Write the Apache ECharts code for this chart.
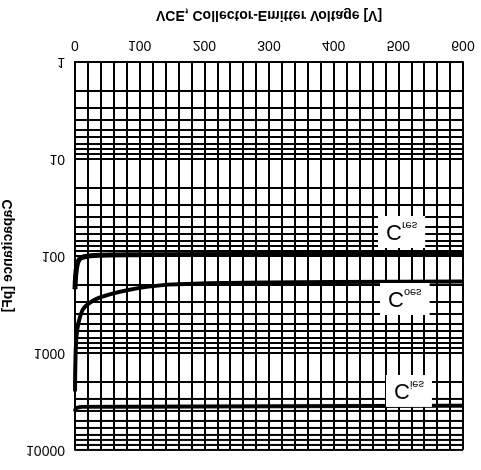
<!DOCTYPE html>
<html><head><meta charset="utf-8">
<script src="https://cdn.jsdelivr.net/npm/echarts@6/dist/echarts.min.js"></script>
<style>html,body{margin:0;padding:0;background:#fff}#c{width:481px;height:470px;transform:scaleY(-1)}</style>
</head><body><div id="c"></div>
<script>
var xTicks=[0,100,200,300,400,500,600];
var yTicks=[1,10,100,1000,10000];
var cres=[[0,220],[1,160],[3,125],[6,110],[10,104],[20,100],[40,98],[100,97],[600,96]];
var coes=[[0,2500],[1,1000],[3,600],[8,420],[15,336],[40,265],[100,213],[160,195],[300,188],[600,183]];
var cies=[[0,4000],[2,3700],[10,3600],[600,3500]];
var ch=echarts.init(document.getElementById('c'));
var F='Liberation Sans';
function lbl(x,y,s){return {type:'text',left:x,top:y,z:10,style:{text:'{a|C}{b|'+s+'}',backgroundColor:'#fff',padding:[6,8,4,8],
 rich:{a:{fontSize:22,fontFamily:F,color:'#000'},b:{fontSize:11,fontFamily:F,color:'#000',verticalAlign:'bottom',padding:[10,0,0,0]}}}};}
ch.setOption({
 animation:false,
 grid:{left:75,right:18,top:20,bottom:62,containLabel:false,outerBoundsMode:'none'},
 xAxis:{type:'value',min:0,max:600,interval:20,
  name:'VCE, Collector-Emitter Voltage [V]',nameLocation:'middle',nameGap:40,
  nameTextStyle:{fontFamily:F,fontWeight:'bold',fontSize:14,color:'#000'},
  axisLine:{lineStyle:{color:'#000',width:2}},axisTick:{show:false},
  axisLabel:{fontFamily:F,fontSize:14,color:'#000',margin:10,formatter:function(v){return v%100===0?String(v):'';}},
  splitLine:{lineStyle:{color:'#000',width:2}}},
 yAxis:{type:'log',min:1,max:10000,logBase:10,
  name:'Capacitance [pF]',nameLocation:'middle',nameGap:58,
  nameTextStyle:{fontFamily:F,fontWeight:'bold',fontSize:14,color:'#000'},
  axisLine:{lineStyle:{color:'#000',width:2}},axisTick:{show:false},
  axisLabel:{fontFamily:F,fontSize:14,color:'#000',margin:10,formatter:function(v){return String(Math.round(v));}},
  splitLine:{lineStyle:{color:'#000',width:2}},
  minorTick:{show:false,splitNumber:9},minorSplitLine:{show:true,lineStyle:{color:'#000',width:2}}},
 series:[
  {type:'line',data:cres,smooth:0.4,symbol:'none',lineStyle:{color:'#000',width:5}},
  {type:'line',data:coes,smooth:0.4,symbol:'none',lineStyle:{color:'#000',width:4}},
  {type:'line',data:cies,smooth:0.4,symbol:'none',lineStyle:{color:'#000',width:4}}
 ],
 graphic:[lbl(378,222,'res'),lbl(380,155,'oes'),lbl(386,63,'ies')]
});
</script></body></html>
